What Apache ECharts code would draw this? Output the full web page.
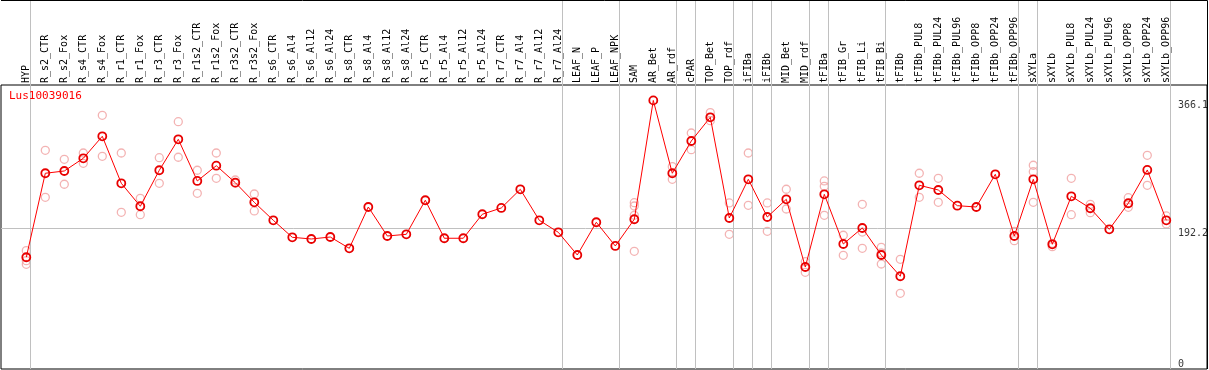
<!DOCTYPE html>
<html><head><meta charset="utf-8">
<script src="https://cdn.jsdelivr.net/npm/echarts@6/dist/echarts.min.js"></script>
<style>html,body{margin:0;padding:0;background:#fff}#c{width:1209px;height:370px}</style>
</head><body><div id="c"></div>
<script>
const N = null;
const categories = ["HYP","R_s2_CTR","R_s2_Fox","R_s4_CTR","R_s4_Fox","R_r1_CTR","R_r1_Fox","R_r3_CTR","R_r3_Fox","R_r1s2_CTR","R_r1s2_Fox","R_r3s2_CTR","R_r3s2_Fox","R_s6_CTR","R_s6_Al4","R_s6_Al12","R_s6_Al24","R_s8_CTR","R_s8_Al4","R_s8_Al12","R_s8_Al24","R_r5_CTR","R_r5_Al4","R_r5_Al12","R_r5_Al24","R_r7_CTR","R_r7_Al4","R_r7_Al12","R_r7_Al24","LEAF_N","LEAF_P","LEAF_NPK","SAM","AR_Bet","AR_rdf","cPAR","TOP_Bet","TOP_rdf","iFIBa","iFIBb","MID_Bet","MID_rdf","tFIBa","tFIB_Gr","tFIB_Li","tFIB_Bi","tFIBb","tFIBb_PUL8","tFIBb_PUL24","tFIBb_PUL96","tFIBb_OPP8","tFIBb_OPP24","tFIBb_OPP96","sXYLa","sXYLb","sXYLb_PUL8","sXYLb_PUL24","sXYLb_PUL96","sXYLb_OPP8","sXYLb_OPP24","sXYLb_OPP96"];
const means = [152.3,266.8,269.9,287.2,317.2,253.1,221.8,270.9,313.1,256.3,277.1,254.0,227.2,202.7,179.5,177.2,179.9,164.5,220.8,181.3,183.6,230.0,178.2,178.2,210.9,219.5,244.9,202.7,186.3,155.4,200.0,167.7,204.1,366.1,266.8,310.8,343.1,205.8,258.6,207.2,231.3,139.0,238.1,170.4,192.2,155.4,126.4,250.4,244.0,222.6,220.8,265.4,181.3,258.6,170.0,235.4,219.1,190.4,225.9,271.3,202.7];
const rep1 = [161.3,298.1,285.8,294.4,345.8,294.4,232.7,288.0,337.1,270.9,294.4,257.6,238.5,N,N,N,N,N,N,N,N,N,N,N,N,N,N,N,N,N,N,N,226.7,N,275.8,321.7,349.4,226.3,294.4,226.3,245.0,146.3,256.3,182.3,224.5,165.9,149.5,266.8,259.9,N,N,N,187.7,277.7,171.3,259.9,224.5,N,233.5,291.3,208.6];
const rep2 = [147.6,234.0,251.8,280.4,289.9,213.6,210.3,253.1,288.6,239.5,259.9,253.1,215.4,N,N,N,N,N,N,N,N,N,N,N,N,N,N,N,N,N,N,N,222.2,N,258.6,298.9,338.5,183.6,223.1,187.7,218.1,131.8,249.0,155.0,186.7,158.1,103.2,234.0,227.2,N,N,N,174.9,268.9,166.7,210.3,213.1,N,220.4,250.4,197.7];
const rep3 = [142.7,N,N,N,N,N,N,N,N,N,N,N,N,N,N,N,N,N,N,N,N,N,N,N,N,N,N,N,N,N,N,N,209.5,N,N,N,N,N,N,N,N,N,209.5,N,164.5,143.1,N,N,N,N,N,N,N,227.2,N,N,N,N,N,N,N];
const rep4 = [N,N,N,N,N,N,N,N,N,N,N,N,N,N,N,N,N,N,N,N,N,N,N,N,N,N,N,N,N,N,N,N,160.4,N,N,N,N,N,N,N,N,N,N,N,N,N,N,N,N,N,N,N,N,N,N,N,N,N,N,N,N];
const yTicks = [0, 192.2, 366.1];
const groupEnds = [-1,0,28,31,34,35,37,38,39,41,42,45,52,53,60];
const titleText = "Lus10039016";

const FONT = "DejaVu Sans Mono";
const YMAX = 387.1;
const CLEAR = 'rgba(0,0,0,0)';
const chart = echarts.init(document.getElementById('c'), null, {renderer:'canvas'});
const repStyle = (data) => ({
  type:'scatter', xAxisIndex:0, yAxisIndex:0, data: data,
  symbol:'circle', symbolSize:8,
  itemStyle:{color:CLEAR, borderColor:'#f0a0a0', borderWidth:1.3},
  z:2, silent:true
});
chart.setOption({
  animation:false,
  backgroundColor:'#fff',
  title:{text:titleText, left:9, top:91, padding:0, textStyle:{color:'#ff0000', fontFamily:FONT, fontSize:11, fontWeight:'normal'}},
  grid:[
    {left:16.8, right:33.2, top:85, bottom:1, outerBoundsMode:'none', containLabel:false},
    {left:1, right:39, top:85, bottom:1, outerBoundsMode:'none', containLabel:false},
    {left:16.8, right:33.2, top:0, bottom:1, outerBoundsMode:'none', containLabel:false},
    {left:1, right:2, top:85, bottom:1, show:true, borderColor:'#000', borderWidth:1, backgroundColor:'transparent', outerBoundsMode:'none', containLabel:false}
  ],
  xAxis:[
    {type:'category', gridIndex:0, data:categories, position:'top', boundaryGap:true,
     axisLine:{show:false}, axisTick:{show:false}, splitLine:{show:false},
     axisLabel:{rotate:90, interval:0, margin:2, fontFamily:FONT, fontSize:10, color:'#000'}},
    {type:'value', gridIndex:1, min:0, max:1, show:false},
    {type:'value', gridIndex:2, min:-0.5, max:60.5, show:false},
    {type:'value', gridIndex:3, min:0, max:1, show:false}
  ],
  yAxis:[
    {type:'value', gridIndex:0, min:0, max:YMAX, show:false},
    {type:'value', gridIndex:1, min:0, max:YMAX, show:false},
    {type:'value', gridIndex:2, min:0, max:1, show:false},
    {type:'value', gridIndex:3, min:0, max:1, show:false}
  ],
  graphic:[
    {type:'polyline', shape:{points:[[1,0.5],[1207.5,0.5],[1207.5,369]]}, style:{stroke:'#000', lineWidth:1, fill:null}, z:10}
  ],
  series:[
    {type:'scatter', xAxisIndex:2, yAxisIndex:2, data:[], symbolSize:0, silent:true,
     markLine:{silent:true, symbol:'none', animation:false, label:{show:false},
       lineStyle:{color:'#c0c0c0', width:1, type:'solid'},
       data: groupEnds.map(i => ({xAxis: i + 0.21}))}},
    {type:'scatter', xAxisIndex:1, yAxisIndex:1, symbolSize:0, silent:true,
     data: yTicks.map(v => ({value:[1, v], label:{verticalAlign: v === 0 ? 'bottom' : 'top'}})),
     label:{show:true, position:'right', distance:8, fontFamily:FONT, fontSize:10, color:'#000',
       formatter: p => String(p.value[1])},
     markLine:{silent:true, symbol:'none', animation:false, label:{show:false},
       lineStyle:{color:'#c0c0c0', width:1, type:'solid'},
       data:[{yAxis: yTicks[1]}]}},
    repStyle(rep1), repStyle(rep2), repStyle(rep3), repStyle(rep4),
    {type:'line', xAxisIndex:0, yAxisIndex:0, data:means, symbol:'circle', symbolSize:8,
     lineStyle:{color:'#ff0000', width:1}, itemStyle:{color:CLEAR, borderColor:'#e80000', borderWidth:1.8},
     z:5, silent:true}
  ]
});
</script></body></html>
